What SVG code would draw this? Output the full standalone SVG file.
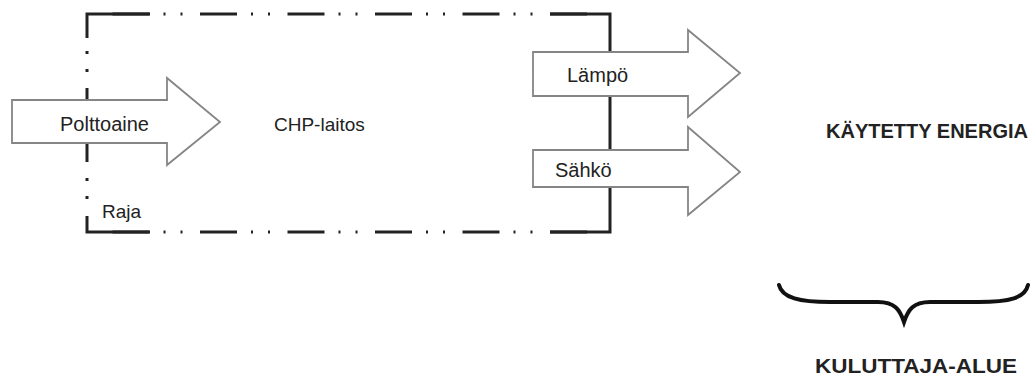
<svg xmlns="http://www.w3.org/2000/svg" width="1034" height="378" viewBox="0 0 1034 378">
<style>
.bd{fill:none;stroke:#222;stroke-width:3}
.dash{stroke-dasharray:37 14 2 15 2 17.5}
.arr{fill:#fff;stroke:#858585;stroke-width:1.8;stroke-linejoin:miter}
.t{font-family:"Liberation Sans",Arial,sans-serif;font-size:20px;fill:#222}
.s{font-size:19px}
.b{font-family:"Liberation Sans",Arial,sans-serif;font-size:20px;font-weight:bold;fill:#222}
</style>
<rect width="1034" height="378" fill="#fff"/>
<g id="boundary">
<path class="bd" d="M87,38 V14 H150"/>
<path class="bd dash" d="M112.5,14 H587"/>
<path class="bd" d="M550,14 H610 V232 H550"/>
<path class="bd dash" d="M112.5,232 H587"/>
<path class="bd" d="M150,232 H87 V216"/>
<path class="bd" d="M87,51 V54 M87,69 V72 M87,88 V162 M87,178 V181 M87,196 V199"/>
</g>
<g id="connectors">
<g id="polttoaine">
<polygon class="arr" points="12,100 167,100 167,78 220,122 167,165 167,143 12,143"/>
<text class="t" x="60" y="131">Polttoaine</text>
</g>
<g id="lampo">
<polygon class="arr" points="533,52 688,52 688,30 740,73 688,117 688,96 533,96"/>
<text class="t" x="567" y="82">Lämpö</text>
</g>
<g id="sahko">
<polygon class="arr" points="533,150 688,150 688,127 740,172 688,215 688,187 533,187"/>
<text class="t" x="555" y="177">Sähkö</text>
</g>
</g>
<g id="chp">
<text class="t s" x="274" y="131">CHP-laitos</text>
</g>
<g id="raja">
<text class="t s" x="102" y="218">Raja</text>
</g>
<g id="kaytetty">
<text class="b" x="826" y="138" textLength="202" lengthAdjust="spacingAndGlyphs">KÄYTETTY ENERGIA</text>
</g>
<g id="brace">
<path d="M779,285 C782,298 800,302 830,302 L878,302 C895,302 900,310 904,322 C908,310 913,302 930,302 L978,302 C1010,302 1025,298 1028,285" fill="none" stroke="#111" stroke-width="4" stroke-linecap="round"/>
</g>
<g id="kuluttaja">
<text class="b" x="815" y="373" font-size="21" textLength="202" lengthAdjust="spacingAndGlyphs">KULUTTAJA-ALUE</text>
</g>
</svg>
